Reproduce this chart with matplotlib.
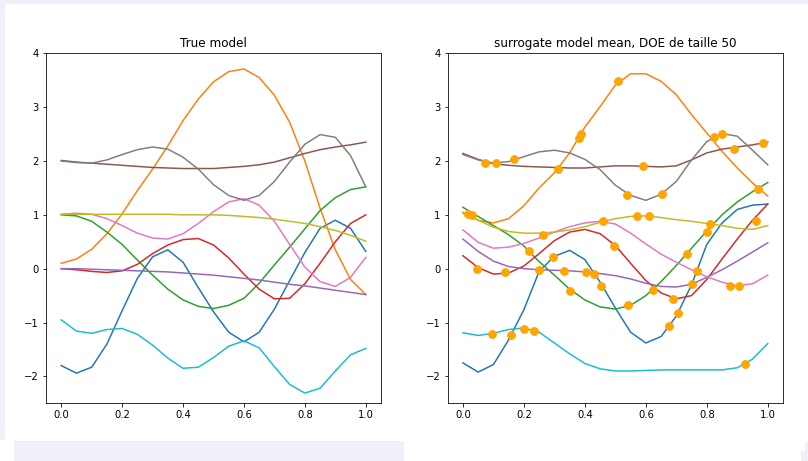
import numpy as np
import matplotlib
matplotlib.use("Agg")
import matplotlib.pyplot as plt
from matplotlib.patches import Rectangle

# abscisses communes (pas de 0.05)
x = np.linspace(0, 1, 21)

# --- vrai modele
true_blue = [-1.80, -1.94, -1.83, -1.40, -0.78, -0.18, 0.22, 0.35, 0.12, -0.35, -0.80,
             -1.18, -1.36, -1.18, -0.75, -0.22, 0.30, 0.75, 0.90, 0.75, 0.32]
true_orange = [0.10, 0.18, 0.36, 0.65, 1.02, 1.45, 1.85, 2.28, 2.75, 3.15, 3.47,
               3.66, 3.71, 3.55, 3.22, 2.72, 2.00, 1.12, 0.35, -0.20, -0.48]
true_green = [1.00, 0.98, 0.88, 0.68, 0.45, 0.16, -0.12, -0.38, -0.58, -0.70, -0.74,
              -0.68, -0.55, -0.27, 0.07, 0.40, 0.74, 1.08, 1.32, 1.47, 1.52]
true_red = [0.00, -0.02, -0.05, -0.07, -0.04, 0.08, 0.28, 0.44, 0.54, 0.56, 0.44,
            0.20, -0.10, -0.38, -0.56, -0.55, -0.28, 0.10, 0.50, 0.84, 1.00]
true_purple = [0.00, 0.00, -0.01, -0.02, -0.03, -0.04, -0.05, -0.06, -0.08, -0.10, -0.12,
               -0.15, -0.18, -0.21, -0.25, -0.29, -0.32, -0.36, -0.40, -0.44, -0.48]
true_brown = [2.01, 1.98, 1.96, 1.94, 1.92, 1.90, 1.88, 1.87, 1.86, 1.86, 1.86,
              1.88, 1.90, 1.93, 1.98, 2.06, 2.14, 2.21, 2.26, 2.30, 2.35]
true_pink = [1.01, 1.03, 1.01, 0.93, 0.80, 0.66, 0.57, 0.55, 0.65, 0.84, 1.06,
             1.24, 1.30, 1.18, 0.88, 0.45, 0.03, -0.24, -0.33, -0.16, 0.21]
true_gray = [2.00, 1.97, 1.96, 2.02, 2.12, 2.21, 2.26, 2.22, 2.07, 1.85, 1.56,
             1.36, 1.27, 1.36, 1.62, 1.98, 2.31, 2.49, 2.44, 2.10, 1.52]
true_olive = [1.01, 1.01, 1.01, 1.01, 1.01, 1.01, 1.01, 1.01, 1.00, 1.00, 1.00,
              0.99, 0.97, 0.95, 0.92, 0.88, 0.84, 0.78, 0.71, 0.62, 0.51]
true_cyan = [-0.95, -1.16, -1.20, -1.13, -1.11, -1.22, -1.42, -1.66, -1.85, -1.83, -1.65,
             -1.44, -1.34, -1.47, -1.82, -2.15, -2.31, -2.22, -1.90, -1.60, -1.48]

# --- moyenne du modele de substitution
sur_blue = [-1.75, -1.92, -1.78, -1.32, -0.76, -0.05, 0.23, 0.34, 0.17, -0.25, -0.73,
            -1.18, -1.38, -1.26, -0.88, -0.30, 0.45, 0.85, 1.10, 1.18, 1.20]
sur_orange = [1.03, 0.90, 0.85, 0.93, 1.17, 1.50, 1.78, 2.15, 2.63, 3.01, 3.41,
              3.62, 3.62, 3.48, 3.23, 2.86, 2.52, 2.18, 1.87, 1.59, 1.35]
sur_green = [1.14, 0.97, 0.80, 0.63, 0.42, 0.13, -0.12, -0.38, -0.58, -0.71, -0.75,
             -0.68, -0.50, -0.24, 0.06, 0.38, 0.70, 1.00, 1.24, 1.43, 1.60]
sur_red = [0.24, 0.02, -0.10, -0.08, 0.05, 0.28, 0.52, 0.68, 0.73, 0.65, 0.43,
           0.10, -0.22, -0.45, -0.56, -0.50, -0.20, 0.18, 0.55, 0.90, 1.20]
sur_purple = [0.55, 0.32, 0.14, 0.04, 0.00, -0.02, -0.03, -0.04, -0.06, -0.09, -0.13,
              -0.19, -0.27, -0.33, -0.34, -0.29, -0.16, -0.02, 0.14, 0.31, 0.48]
sur_brown = [2.14, 2.03, 1.95, 1.92, 1.90, 1.89, 1.88, 1.87, 1.87, 1.89, 1.91,
             1.91, 1.90, 1.89, 1.91, 2.02, 2.15, 2.22, 2.26, 2.30, 2.35]
sur_pink = [0.72, 0.49, 0.38, 0.40, 0.47, 0.57, 0.68, 0.78, 0.85, 0.88, 0.83,
            0.66, 0.46, 0.27, 0.12, -0.02, -0.15, -0.25, -0.32, -0.28, -0.12]
sur_gray = [2.12, 2.02, 1.96, 1.99, 2.08, 2.17, 2.20, 2.15, 2.03, 1.84, 1.55,
            1.36, 1.27, 1.38, 1.62, 2.02, 2.36, 2.51, 2.46, 2.20, 1.93]
sur_olive = [1.05, 0.90, 0.77, 0.69, 0.66, 0.66, 0.68, 0.72, 0.78, 0.86, 0.93,
             0.97, 0.98, 0.95, 0.91, 0.88, 0.84, 0.80, 0.75, 0.73, 0.80]
sur_cyan = [-1.19, -1.24, -1.20, -1.13, -1.10, -1.18, -1.38, -1.58, -1.76, -1.86, -1.90,
            -1.90, -1.89, -1.88, -1.88, -1.88, -1.88, -1.88, -1.84, -1.68, -1.39]

# --- points du DOE (50)
doe_x = [0.016, 0.031, 0.074, 0.107, 0.167, 0.313, 0.381, 0.386, 0.508, 0.461,
         0.822, 0.849, 0.890, 0.986, 0.592, 0.537, 0.654, 0.969, 0.572, 0.611,
         0.811, 0.962, 0.264, 0.217, 0.296, 0.045, 0.137, 0.250, 0.331, 0.403,
         0.430, 0.350, 0.452, 0.496, 0.094, 0.159, 0.200, 0.233, 0.734, 0.767,
         0.753, 0.543, 0.622, 0.688, 0.705, 0.676, 0.877, 0.907, 0.924, 0.800]
doe_y = [1.01, 1.00, 1.97, 1.97, 2.04, 1.86, 2.43, 2.51, 3.49, 0.88,
         2.44, 2.50, 2.23, 2.33, 1.90, 1.37, 1.39, 1.48, 0.98, 0.97,
         0.83, 0.89, 0.63, 0.33, 0.22, 0.00, -0.07, -0.02, -0.05, -0.07,
         -0.09, -0.41, -0.32, 0.43, -1.21, -1.24, -1.12, -1.16, 0.28, -0.04,
         -0.28, -0.68, -0.40, -0.56, -0.82, -1.07, -0.32, -0.32, -1.77, 0.69]

true_curves = [true_blue, true_orange, true_green, true_red, true_purple,
               true_brown, true_pink, true_gray, true_olive, true_cyan]
sur_curves = [sur_blue, sur_orange, sur_green, sur_red, sur_purple,
              sur_brown, sur_pink, sur_gray, sur_olive, sur_cyan]

W, H = 808, 461
fig = plt.figure(figsize=(W / 72, H / 72), dpi=72, facecolor="#f0f0fa")
# zone blanche de la sortie (derriere les axes)
fig.patches.append(Rectangle((5 / W, 1 - 440 / H), (W - 5) / W, 436 / H,
                             transform=fig.transFigure, color="white", zorder=-10))
fig.patches.append(Rectangle((0, 0), 13 / W, 21 / H,
                             transform=fig.transFigure, color="white", zorder=-10))
fig.patches.append(Rectangle((404 / W, 11 / H), 400 / W, 10 / H,
                             transform=fig.transFigure, color="white", zorder=-10))
fig.patches.append(Rectangle((404 / W, 0), 396 / W, 11 / H,
                             transform=fig.transFigure, color="white", zorder=-10))

ax1 = fig.add_axes([46 / W, 1 - 403.3 / H, 335 / W, 350 / H])
ax2 = fig.add_axes([447.7 / W, 1 - 403.3 / H, 335.3 / W, 350 / H])

for y in true_curves:
    ax1.plot(x, y)
ax1.set_title("True model")

for y in sur_curves:
    ax2.plot(x, y)
ax2.scatter(doe_x, doe_y, s=60, color="orange", zorder=3)
ax2.set_title("surrogate model mean, DOE de taille 50")

for ax in (ax1, ax2):
    ax.set_xlim(-0.05, 1.05)
    ax.set_ylim(-2.5, 4)
    ax.set_xticks([0.0, 0.2, 0.4, 0.6, 0.8, 1.0])
    ax.set_yticks([-2, -1, 0, 1, 2, 3, 4])

plt.savefig("out.png", dpi=72, facecolor=fig.get_facecolor())
